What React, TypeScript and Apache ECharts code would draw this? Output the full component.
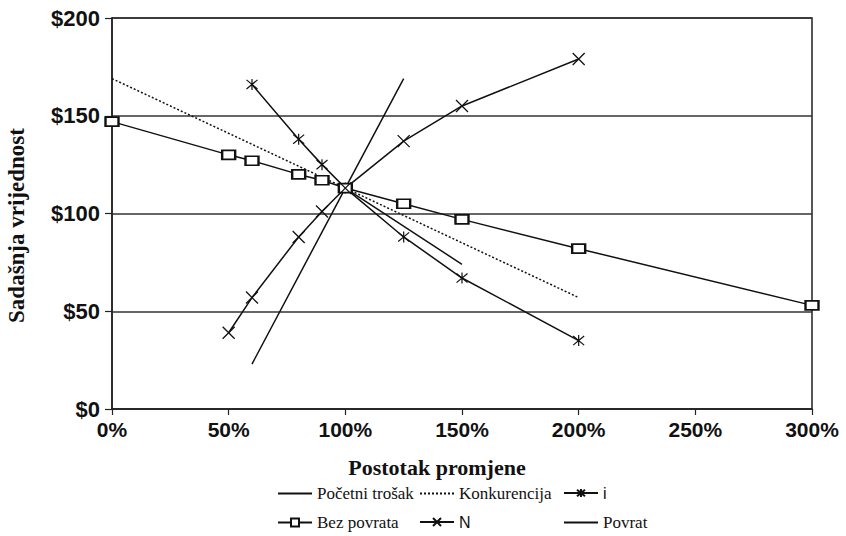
import React, { useEffect, useRef } from "react";
import * as echarts from "echarts";

// ---- data ----
const xTicks = [0, 50, 100, 150, 200, 250, 300];
const yTicks = [0, 50, 100, 150, 200];

const pocetniPct = [100, 150];
const pocetniVal = [113, 74];

const konkurencijaPct = [0, 100, 200];
const konkurencijaVal = [169, 113, 57];

const iPct = [60, 80, 90, 100, 125, 150, 200];
const iVal = [166, 138, 125, 113, 88, 67, 35];

const bezPovrataPct = [0, 50, 60, 80, 90, 100, 125, 150, 200, 300];
const bezPovrataVal = [147, 130, 127, 120, 117, 113, 105, 97, 82, 53];

const nPct = [50, 60, 80, 90, 100, 125, 150, 200];
const nVal = [39, 57, 88, 101, 113, 137, 155, 179];

const povratPct = [60, 100, 125];
const povratVal = [23, 113, 169];

const names = ["Početni trošak", "Konkurencija", "i", "Bez povrata", "N", "Povrat"];

const zip = (xs: number[], ys: number[]) => xs.map((x, k) => [x, ys[k]]);

const INK = "#111";
const CROSS = "path://M0,0L10,10M10,0L0,10";
const STAR = "path://M0,0L10,10M10,0L0,10M5,-1L5,11";

export default function App() {
  const ref = useRef<HTMLDivElement>(null);

  useEffect(() => {
    if (!ref.current) return;
    const chart = echarts.init(ref.current, undefined, { renderer: "svg" });

    const baseLine = (name: string, data: number[][], extra: any = {}) => ({
      name,
      type: "line",
      data,
      symbol: "none",
      color: INK,
      lineStyle: { color: INK, width: 1.5, type: "solid" },
      itemStyle: { color: INK },
      z: 3,
      ...extra,
    });

    const serifText = { fontFamily: "Liberation Serif", fontSize: 17, color: INK };
    const sansText = { fontFamily: "Liberation Sans", fontSize: 16, color: INK };
    // [name, left, top, textStyle, hasSymbol]
    const legendPos: [string, number, number, any, boolean][] = [
      [names[0], 277, 485, serifText, false],
      [names[1], 419, 485, serifText, false],
      [names[2], 563, 485, sansText, true],
      [names[3], 277, 514, serifText, true],
      [names[4], 419, 514, sansText, true],
      [names[5], 563, 514, serifText, false],
    ];

    chart.setOption({
      animation: false,
      backgroundColor: "#fff",
      grid: {
        left: 112,
        right: 34,
        top: 18,
        bottom: 127,
        show: true,
        borderColor: "#222",
        borderWidth: 1.5,
        containLabel: false,
        outerBoundsMode: "none",
      },
      legend: legendPos.map(([n, l, t, ts, hasSym]) => ({
        data: [n],
        left: l,
        top: t,
        padding: 0,
        itemWidth: 34,
        itemHeight: 10,
        textStyle: ts,
        selectedMode: false,
        ...(hasSym ? {} : { itemStyle: { opacity: 0 } }),
      })),
      xAxis: {
        type: "value",
        min: xTicks[0],
        max: xTicks[xTicks.length - 1],
        interval: 50,
        name: "Postotak promjene",
        nameLocation: "middle",
        nameGap: 47,
        nameTextStyle: {
          fontFamily: "Liberation Serif",
          fontWeight: "bold",
          fontSize: 22,
          color: INK,
          padding: [0, 50, 0, 0],
        },
        axisLine: { show: true, lineStyle: { color: "#222", width: 1.5 } },
        axisTick: { show: true, length: 6, lineStyle: { color: "#222", width: 1.2 } },
        axisLabel: {
          formatter: (v: number) => `${v}%`,
          fontFamily: "Liberation Sans",
          fontWeight: "bold",
          fontSize: 21,
          color: INK,
          margin: 10,
        },
        splitLine: { show: false },
      },
      yAxis: {
        type: "value",
        min: yTicks[0],
        max: yTicks[yTicks.length - 1],
        interval: 50,
        name: "Sadašnja vrijednost",
        nameLocation: "middle",
        nameGap: 84,
        nameTextStyle: {
          fontFamily: "Liberation Serif",
          fontWeight: "bold",
          fontSize: 23,
          color: INK,
          padding: [0, 24, 0, 0],
        },
        axisLine: { show: true, lineStyle: { color: "#222", width: 1.5 } },
        axisTick: { show: true, length: 7, lineStyle: { color: "#222", width: 1.2 } },
        axisLabel: {
          formatter: (v: number) => `$${v}`,
          fontFamily: "Liberation Sans",
          fontWeight: "bold",
          fontSize: 22,
          color: INK,
          margin: 12,
        },
        splitLine: { show: true, lineStyle: { color: "#333", width: 1.5 } },
      },
      series: [
        baseLine(names[0], zip(pocetniPct, pocetniVal)),
        baseLine(names[1], zip(konkurencijaPct, konkurencijaVal), {
          lineStyle: { color: INK, width: 1.5, type: [2, 2] },
        }),
        baseLine(names[2], zip(iPct, iVal), {
          symbol: STAR,
          symbolSize: 11,
          showAllSymbol: true,
          itemStyle: { color: INK, borderColor: INK, borderWidth: 1.2 },
        }),
        baseLine(names[3], zip(bezPovrataPct, bezPovrataVal), {
          symbol: "emptyRect",
          symbolSize: [13, 9],
          showAllSymbol: true,
          itemStyle: { color: INK, borderColor: INK, borderWidth: 1.2 },
        }),
        baseLine(names[4], zip(nPct, nVal), {
          symbol: CROSS,
          symbolSize: 12,
          showAllSymbol: true,
          itemStyle: { color: INK, borderColor: INK, borderWidth: 1.3 },
        }),
        baseLine(names[5], zip(povratPct, povratVal)),
      ],
    });

    return () => chart.dispose();
  }, []);

  return (
    <div
      ref={ref}
      style={{ position: "absolute", left: 0, top: 0, width: 846, height: 536, background: "#fff" }}
    />
  );
}
